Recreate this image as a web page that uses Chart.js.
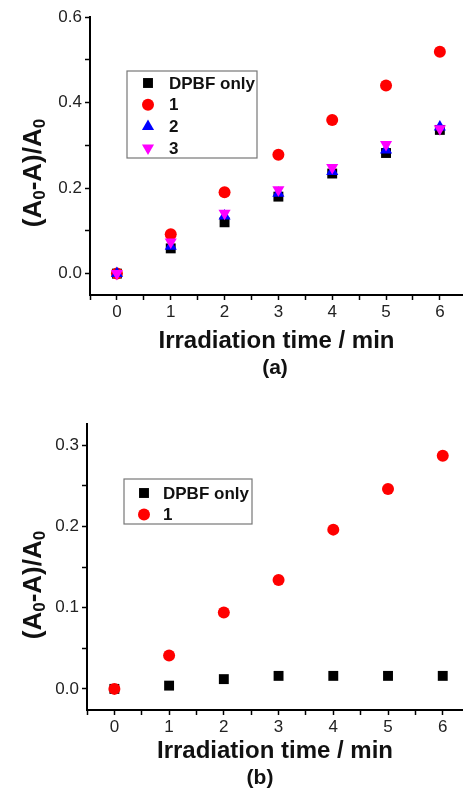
<!DOCTYPE html>
<html>
<head>
<meta charset="utf-8">
<script src="https://cdn.jsdelivr.net/npm/chart.js"></script>
<style>
  html, body { margin: 0; padding: 0; background: #fff; overflow: hidden; }
  .panel { position: absolute; left: 0; width: 470px; }
  #panelA { top: 0; height: 400px; }
  #panelB { top: 400px; height: 391px; }
</style>
</head>
<body>
<div class="panel" id="panelA"><canvas id="chartA"></canvas></div>
<div class="panel" id="panelB"><canvas id="chartB"></canvas></div>
<script>
// irradiation time (min)
var times = [0, 1, 2, 3, 4, 5, 6];

// panel (a)
var aDpbf = [0, 0.059, 0.120, 0.180, 0.234, 0.282, 0.336];
var aOne = [0, 0.092, 0.190, 0.278, 0.359, 0.440, 0.519];
var aTwo = [0, 0.064, 0.135, 0.188, 0.239, 0.289, 0.343];
var aThree = [0, 0.074, 0.141, 0.196, 0.248, 0.302, 0.339];

// panel (b)
var bDpbf = [0, 0.004, 0.012, 0.016, 0.016, 0.016, 0.016];
var bOne = [0, 0.041, 0.094, 0.134, 0.196, 0.246, 0.287];

var xTickLabels = ['0', '1', '2', '3', '4', '5', '6'];
var yTickLabelsA = ['0.0', '0.2', '0.4', '0.6'];
var yTickLabelsB = ['0.0', '0.1', '0.2', '0.3'];

var FONT = "'Liberation Sans', Arial, Helvetica, sans-serif";

function pts(ys) {
    return times.map(function (t, i) { return { x: t, y: ys[i] }; });
}

function stepTicks(step) {
    return function (scale) {
        var out = [];
        var start = Math.ceil((scale.min - 1e-9) / step);
        for (var k = start; k * step <= scale.max + 1e-9; k++) {
            out.push({ value: Math.round(k * step * 1000) / 1000 });
        }
        scale.ticks = out;
    };
}

function labelFrom(list) {
    return function (value) {
        for (var i = 0; i < list.length; i++) {
            if (Math.abs(parseFloat(list[i]) - value) < 1e-6) return list[i];
        }
        return '';
    };
}

// y title with subscripts, legend box and panel caption
var extras = {
    id: 'extras',
    afterDraw: function (chart, args, opts) {
        var ctx = chart.ctx;
        ctx.save();

        // y axis title: (A0-A)/A0
        var parts = [['(A', 0], ['0', 1], ['-A)/A', 0], ['0', 1]];
        var mainFont = 'bold 26px ' + FONT, subFont = 'bold 17px ' + FONT;
        var total = 0;
        parts.forEach(function (p) {
            ctx.font = p[1] ? subFont : mainFont;
            total += ctx.measureText(p[0]).width;
        });
        ctx.translate(opts.yTitle.x, opts.yTitle.y);
        ctx.rotate(-Math.PI / 2);
        ctx.fillStyle = '#111';
        ctx.textBaseline = 'alphabetic';
        ctx.textAlign = 'left';
        var cx = -total / 2;
        parts.forEach(function (p) {
            ctx.font = p[1] ? subFont : mainFont;
            ctx.fillText(p[0], cx, p[1] ? 4 : 0);
            cx += ctx.measureText(p[0]).width;
        });
        ctx.setTransform(1, 0, 0, 1, 0, 0);

        // legend box
        var lg = opts.legend;
        ctx.strokeStyle = '#777';
        ctx.lineWidth = 1.2;
        ctx.strokeRect(lg.x, lg.y, lg.w, lg.h);
        ctx.font = 'bold 17px ' + FONT;
        ctx.textBaseline = 'middle';
        chart.data.datasets.forEach(function (ds, i) {
            var yy = lg.firstRow + i * lg.rowH;
            ctx.fillStyle = ds.backgroundColor;
            ctx.strokeStyle = ds.backgroundColor;
            Chart.helpers.drawPoint(ctx, {
                pointStyle: ds.pointStyle,
                rotation: ds.pointRotation || 0,
                radius: ds.pointRadius,
                borderWidth: 0
            }, lg.symX, yy);
            ctx.fillStyle = '#111';
            ctx.fillText(ds.label, lg.textX, yy + 1);
        });

        // caption
        ctx.font = 'bold 21px ' + FONT;
        ctx.textAlign = 'center';
        ctx.textBaseline = 'middle';
        ctx.fillStyle = '#111';
        ctx.fillText(opts.caption.text, opts.caption.x, opts.caption.y);
        ctx.restore();
    }
};

function makeOptions(cfg) {
    return {
        responsive: true,
        maintainAspectRatio: false,
        animation: false,
        events: [],
        layout: { padding: { left: 0, right: 0, top: cfg.padTop, bottom: cfg.padBottom } },
        plugins: {
            legend: { display: false },
            tooltip: { enabled: false },
            extras: {
                yTitle: cfg.yTitle,
                legend: cfg.legend,
                caption: cfg.caption
            }
        },
        scales: {
            x: {
                type: 'linear',
                min: -0.5,
                max: cfg.xMax,
                afterBuildTicks: stepTicks(0.5),
                afterFit: function (s) { s.height = cfg.xHeight; },
                border: { display: true, color: '#000', width: 2 },
                grid: { drawOnChartArea: false, drawTicks: true, tickLength: 5, tickColor: '#000', tickWidth: 1.5 },
                ticks: {
                    autoSkip: false,
                    maxRotation: 0,
                    padding: 2,
                    color: '#222',
                    font: { family: FONT, size: 17 },
                    callback: labelFrom(xTickLabels)
                },
                title: {
                    display: true,
                    text: 'Irradiation time / min',
                    color: '#111',
                    padding: 0,
                    font: { family: FONT, size: 24, weight: 'bold' }
                }
            },
            y: {
                type: 'linear',
                min: cfg.yMin,
                max: cfg.yMax,
                afterBuildTicks: stepTicks(cfg.yStep),
                afterFit: function (s) { s.width = cfg.yWidth; },
                border: { display: true, color: '#000', width: 2 },
                grid: { drawOnChartArea: false, drawTicks: true, tickLength: 5, tickColor: '#000', tickWidth: 1.5 },
                ticks: {
                    autoSkip: false,
                    padding: 3,
                    color: '#222',
                    font: { family: FONT, size: 17 },
                    callback: labelFrom(cfg.yLabels)
                }
            }
        }
    };
}

var chartA = new Chart(document.getElementById('chartA').getContext('2d'), {
    type: 'scatter',
    data: {
        datasets: [
            { label: 'DPBF only', data: pts(aDpbf), pointStyle: 'rect', pointRadius: 7, backgroundColor: '#000000', borderWidth: 0, order: 3 },
            { label: '1', data: pts(aOne), pointStyle: 'circle', pointRadius: 6, backgroundColor: '#ff0000', borderWidth: 0, order: 2 },
            { label: '2', data: pts(aTwo), pointStyle: 'triangle', pointRadius: 7, backgroundColor: '#0000ff', borderWidth: 0, order: 1 },
            { label: '3', data: pts(aThree), pointStyle: 'triangle', pointRotation: 180, pointRadius: 7, backgroundColor: '#ff00ff', borderWidth: 0, order: 0 }
        ]
    },
    options: makeOptions({
        padTop: 17, padBottom: 44.6,
        xMax: 6.43, xHeight: 60.4,
        yMin: -0.05, yMax: 0.6, yStep: 0.1, yWidth: 90, yLabels: yTickLabelsA,
        yTitle: { x: 41, y: 173 },
        legend: { x: 127, y: 71, w: 130, h: 87, firstRow: 83, rowH: 21.7, symX: 148, textX: 169 },
        caption: { text: '(a)', x: 275, y: 368 }
    }),
    plugins: [extras]
});

var chartB = new Chart(document.getElementById('chartB').getContext('2d'), {
    type: 'scatter',
    data: {
        datasets: [
            { label: 'DPBF only', data: pts(bDpbf), pointStyle: 'rect', pointRadius: 7, backgroundColor: '#000000', borderWidth: 0, order: 1 },
            { label: '1', data: pts(bOne), pointStyle: 'circle', pointRadius: 6, backgroundColor: '#ff0000', borderWidth: 0, order: 0 }
        ]
    },
    options: makeOptions({
        padTop: 24, padBottom: 25.6,
        xMax: 6.37, xHeight: 55.4,
        yMin: -0.026, yMax: 0.326, yStep: 0.05, yWidth: 87, yLabels: yTickLabelsB,
        yTitle: { x: 41, y: 185 },
        legend: { x: 124, y: 79, w: 128, h: 45, firstRow: 93, rowH: 21.5, symX: 144, textX: 163 },
        caption: { text: '(b)', x: 260, y: 378 }
    }),
    plugins: [extras]
});
</script>
</body>
</html>
